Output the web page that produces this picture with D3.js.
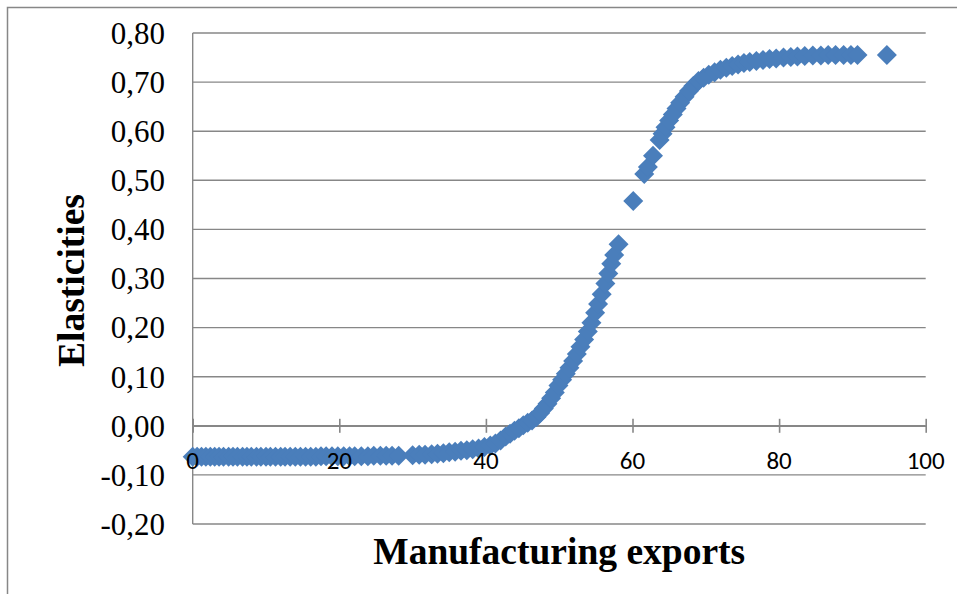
<!DOCTYPE html>
<html>
<head>
<meta charset="utf-8">
<script src="https://cdn.jsdelivr.net/npm/d3@7"></script>
<style>
  html, body { margin: 0; padding: 0; background: #fff; }
  svg { display: block; }
</style>
</head>
<body>
<svg id="chart" width="957" height="594"></svg>
<script>
// x = manufacturing exports, y = elasticity
const points = [
  [0, -0.063], [0.6, -0.063], [1.2, -0.063], [1.8, -0.063], [2.4, -0.063], [3.0, -0.063],
  [3.6, -0.063], [4.2, -0.063], [4.9, -0.063], [5.5, -0.063], [6.1, -0.063], [6.8, -0.063],
  [7.4, -0.063], [8.0, -0.063], [8.7, -0.063], [9.3, -0.063], [10.0, -0.063], [10.6, -0.063],
  [11.3, -0.063], [12.0, -0.063], [12.6, -0.063], [13.3, -0.063], [14.0, -0.063], [14.7, -0.063],
  [15.4, -0.063], [16.1, -0.063], [16.8, -0.063], [17.5, -0.062], [18.2, -0.062], [19.0, -0.062],
  [19.8, -0.062], [20.6, -0.062], [21.4, -0.062], [22.1, -0.062], [23.0, -0.062], [23.9, -0.062],
  [24.7, -0.061], [25.6, -0.061], [26.4, -0.061], [27.2, -0.061], [28.1, -0.061],
  [30.0, -0.060], [30.9, -0.059], [31.7, -0.059], [32.6, -0.058], [33.4, -0.057], [34.2, -0.056],
  [35.0, -0.054], [35.8, -0.053], [36.6, -0.051], [37.4, -0.050], [38.2, -0.048], [39.0, -0.046],
  [39.8, -0.043], [40.6, -0.040], [41.3, -0.036], [42.0, -0.030], [42.7, -0.022], [43.3, -0.016],
  [43.9, -0.010], [44.5, -0.005], [45.1, 0.001], [45.7, 0.006], [46.3, 0.011], [46.9, 0.018],
  [47.4, 0.026], [47.9, 0.035], [48.4, 0.045], [48.9, 0.056], [49.4, 0.068], [49.9, 0.082],
  [50.4, 0.094], [50.9, 0.106], [51.4, 0.118], [51.9, 0.132], [52.4, 0.146], [52.9, 0.161],
  [53.4, 0.176], [53.9, 0.192], [54.4, 0.210], [54.9, 0.230], [55.3, 0.248], [55.8, 0.268],
  [56.3, 0.290], [56.7, 0.310], [57.1, 0.330], [57.5, 0.348], [58.1, 0.370],
  [60.1, 0.458], [61.6, 0.513], [62.1, 0.527], [62.8, 0.550], [63.7, 0.582], [64.1, 0.595],
  [64.5, 0.608], [65.0, 0.622], [65.5, 0.634], [66.0, 0.646], [66.5, 0.658], [67.1, 0.670],
  [67.7, 0.682], [68.3, 0.692], [69.0, 0.702], [69.7, 0.709], [70.4, 0.715], [71.2, 0.720],
  [72.0, 0.725], [72.8, 0.729], [73.6, 0.733], [74.4, 0.736], [75.2, 0.739], [76.0, 0.741],
  [76.9, 0.743], [77.8, 0.745], [78.7, 0.747], [79.6, 0.748], [80.6, 0.750], [81.6, 0.751],
  [82.5, 0.752], [83.5, 0.753], [84.6, 0.754], [85.7, 0.754], [86.7, 0.755], [87.7, 0.755],
  [88.8, 0.755], [89.8, 0.755], [90.7, 0.755], [94.7, 0.755]
];
const xTicks = [0, 20, 40, 60, 80, 100];
const yTicks = [-0.2, -0.1, 0, 0.1, 0.2, 0.3, 0.4, 0.5, 0.6, 0.7, 0.8];
const xTitle = "Manufacturing exports";
const yTitle = "Elasticities";

const svg = d3.select("#chart");
const plotLeft = 192.7, plotRight = 925.7, plotTop = 33, plotBottom = 524;
const gray = "#878787";

const x = d3.scaleLinear().domain([0, 100]).range([plotLeft, plotRight]);
const y = d3.scaleLinear().domain([-0.2, 0.8]).range([plotBottom, plotTop]);
const fmt = v => d3.format(".2f")(v).replace(".", ",").replace("−", "-");

// outer frame (runs off the right and bottom edge)
svg.append("rect")
  .attr("x", 7.5).attr("y", 7.5).attr("width", 1000).attr("height", 1000)
  .attr("fill", "none").attr("stroke", gray).attr("stroke-width", 1.5);

// horizontal gridlines
svg.append("g").selectAll("line").data(yTicks).join("line")
  .attr("x1", plotLeft).attr("x2", plotRight)
  .attr("y1", d => y(d)).attr("y2", d => y(d))
  .attr("stroke", gray).attr("stroke-width", 1.4);

// y axis line
svg.append("line")
  .attr("x1", plotLeft).attr("x2", plotLeft).attr("y1", plotTop).attr("y2", plotBottom)
  .attr("stroke", gray).attr("stroke-width", 1.4);

// x axis at zero with crossing ticks
const xAxis = svg.append("g").attr("transform", `translate(0,${y(0)})`)
  .call(d3.axisBottom(x).tickValues(xTicks).tickSize(0).tickFormat(""));
xAxis.select(".domain").attr("stroke", gray).attr("stroke-width", 1.4);
xAxis.selectAll(".tick line").attr("y1", -7).attr("y2", 7)
  .attr("stroke", gray).attr("stroke-width", 1.6);

// markers
const diamond = d3.symbol(d3.symbolSquare, 200);
svg.append("g").selectAll("path").data(points).join("path")
  .attr("d", diamond)
  .attr("transform", d => `translate(${x(d[0])},${y(d[1])}) rotate(45)`)
  .attr("fill", "#4a7ebb");

// x tick labels (drawn over the markers)
svg.append("g").selectAll("text").data(xTicks).join("text")
  .attr("x", d => x(d)).attr("y", y(0) + 43)
  .attr("text-anchor", "middle")
  .attr("font-family", "Carlito, Lato, 'Open Sans', sans-serif")
  .attr("font-size", 25)
  .attr("fill", "#000")
  .text(d => d);

// y tick labels
svg.append("g").selectAll("text").data(yTicks).join("text")
  .attr("x", 165).attr("y", d => y(d))
  .attr("dy", "0.35em")
  .attr("text-anchor", "end")
  .attr("font-family", "'Liberation Serif', 'Times New Roman', serif")
  .attr("font-size", 31)
  .attr("fill", "#000")
  .text(d => fmt(d));

// axis titles
svg.append("text")
  .attr("x", (plotLeft + plotRight) / 2).attr("y", 564)
  .attr("text-anchor", "middle")
  .attr("font-family", "'Liberation Serif', 'Times New Roman', serif")
  .attr("font-weight", "bold").attr("font-size", 37.5)
  .text(xTitle);

svg.append("text")
  .attr("transform", `translate(84,${(plotTop + plotBottom) / 2 + 2}) rotate(-90)`)
  .attr("text-anchor", "middle")
  .attr("font-family", "'Liberation Serif', 'Times New Roman', serif")
  .attr("font-weight", "bold").attr("font-size", 37.5)
  .text(yTitle);
</script>
</body>
</html>
